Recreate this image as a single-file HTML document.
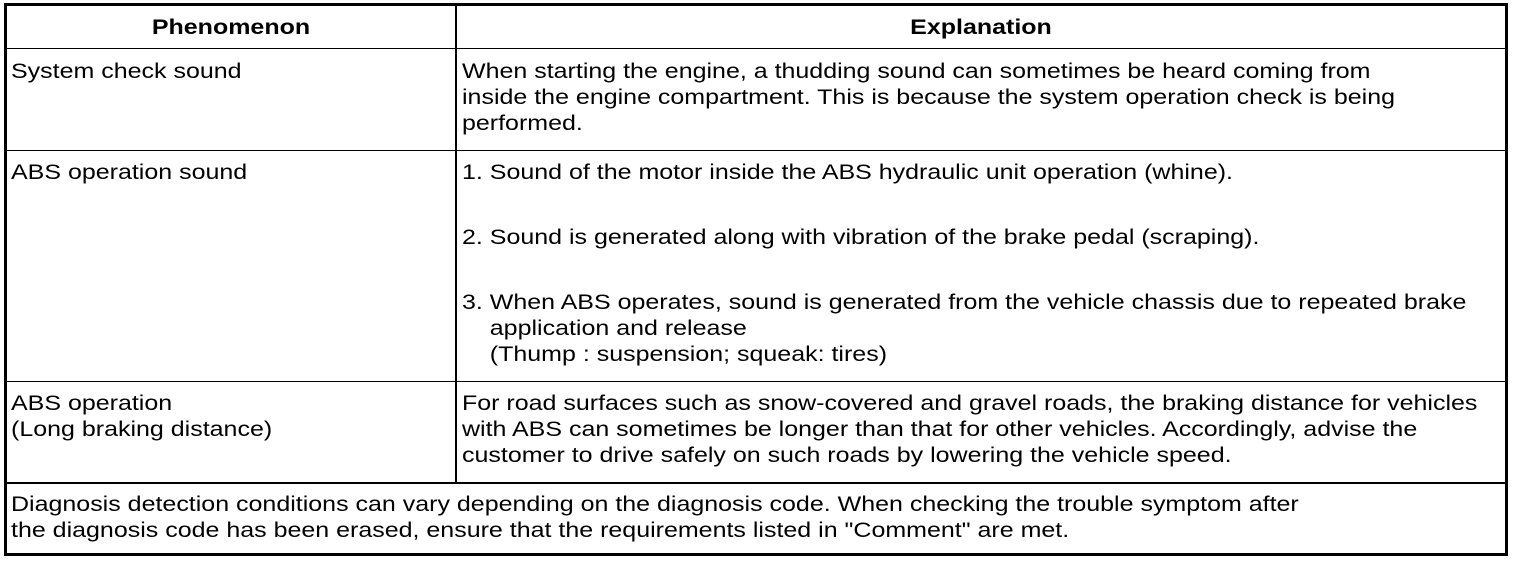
<!DOCTYPE html>
<html><head><style>
body{margin:0;width:1520px;height:562px;background:#fff;position:relative;overflow:hidden;font-family:"Liberation Sans",Arial,sans-serif;font-size:21px;color:#000}
.l{position:absolute;background:#000}
.t{position:absolute;white-space:nowrap;line-height:26px;transform:scaleX(1.19);transform-origin:0 50%}
.c{transform-origin:50% 50%}
</style></head><body>
<div class="l" style="left:4px;top:3px;width:1504px;height:3px"></div>
<div class="l" style="left:4px;top:553px;width:1504px;height:3px"></div>
<div class="l" style="left:4px;top:3px;width:3px;height:553px"></div>
<div class="l" style="left:1505px;top:3px;width:3px;height:553px"></div>
<div class="l" style="left:455px;top:6px;width:2px;height:477px"></div>
<div class="l" style="left:6px;top:48px;width:1500px;height:1px"></div>
<div class="l" style="left:6px;top:150px;width:1500px;height:1px"></div>
<div class="l" style="left:6px;top:381px;width:1500px;height:1px"></div>
<div class="l" style="left:6px;top:482px;width:1500px;height:2px"></div>

<div class="t c" style="left:7px;width:448px;text-align:center;top:15px;font-weight:bold">Phenomenon</div>
<div class="t c" style="left:457px;width:1048px;text-align:center;top:15px;font-weight:bold">Explanation</div>

<div class="t" style="left:11px;top:59px">System check sound</div>
<div class="t" style="left:462px;top:59px">When starting the engine, a thudding sound can sometimes be heard coming from<br>inside the engine compartment. This is because the system operation check is being<br>performed.</div>

<div class="t" style="left:11px;top:160px">ABS operation sound</div>
<div class="t" style="left:462px;top:160px">1. Sound of the motor inside the ABS hydraulic unit operation (whine).</div>
<div class="t" style="left:462px;top:225px">2. Sound is generated along with vibration of the brake pedal (scraping).</div>
<div class="t" style="left:462px;top:290px">3. When ABS operates, sound is generated from the vehicle chassis due to repeated brake<br>&nbsp;&nbsp;&nbsp;&nbsp;application and release<br>&nbsp;&nbsp;&nbsp;&nbsp;(Thump : suspension; squeak: tires)</div>

<div class="t" style="left:11px;top:391px">ABS operation<br>(Long braking distance)</div>
<div class="t" style="left:462px;top:391px">For road surfaces such as snow-covered and gravel roads, the braking distance for vehicles<br>with ABS can sometimes be longer than that for other vehicles. Accordingly, advise the<br>customer to drive safely on such roads by lowering the vehicle speed.</div>

<div class="t" style="left:11px;top:492px">Diagnosis detection conditions can vary depending on the diagnosis code. When checking the trouble symptom after<br>the diagnosis code has been erased, ensure that the requirements listed in "Comment" are met.</div>
</body></html>
